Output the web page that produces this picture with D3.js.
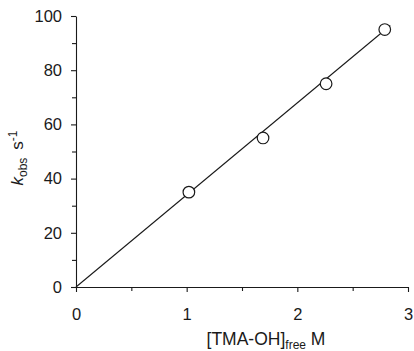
<!DOCTYPE html>
<html>
<head>
<meta charset="utf-8">
<script src="https://cdn.jsdelivr.net/npm/d3@7"></script>
<style>
	body { margin: 0; background: #fff; }
	text { font-family: "Liberation Sans", Arial, sans-serif; fill: #1a1a1a; }
</style>
</head>
<body>
<script>
// chart data
const concFree = [1.02, 1.69, 2.26, 2.79];   // [TMA-OH]free, M
const kObs = [35, 55, 75, 95];               // kobs, s^-1
const fitX = [0, 2.84];                      // linear fit end points
const fitY = [0, 96.5];
const xTicks = [0, 1, 2, 3];
const xMinor = [0.5, 1.5, 2.5];
const yTicks = [0, 20, 40, 60, 80, 100];
const yMinor = [10, 30, 50, 70, 90];

const width = 414;
const height = 351;
const margin = { top: 16, right: 6, bottom: 64, left: 76 };
const INK = '#1a1a1a';

const svg = d3.select('body')
	.append('svg')
	.attr('width', width)
	.attr('height', height);

const x = d3.scaleLinear().domain([0, 3]).range([margin.left, width - margin.right]);
const y = d3.scaleLinear().domain([0, 100]).range([height - margin.bottom, margin.top]);

// axes
svg.append('g')
	.attr('transform', `translate(0,${y(0)})`)
	.call(d3.axisBottom(x).tickValues(xTicks).tickFormat(d3.format('d')).tickSize(5).tickSizeOuter(0).tickPadding(16));
svg.append('g')
	.attr('transform', `translate(0,${y(0)})`)
	.call(d3.axisBottom(x).tickValues(xMinor).tickFormat('').tickSize(4).tickSizeOuter(0))
	.select('.domain').remove();

svg.append('g')
	.attr('transform', `translate(${x(0)},0)`)
	.call(d3.axisLeft(y).tickValues(yTicks).tickSize(5).tickSizeOuter(0).tickPadding(9));
svg.append('g')
	.attr('transform', `translate(${x(0)},0)`)
	.call(d3.axisLeft(y).tickValues(yMinor).tickFormat('').tickSize(4).tickSizeOuter(0))
	.select('.domain').remove();

svg.selectAll('.domain, .tick line').attr('stroke', INK).attr('stroke-width', 1.1);
svg.selectAll('.tick text')
	.attr('font-size', 16.5)
	.attr('font-family', '"Liberation Sans", Arial, sans-serif')
	.attr('fill', INK);

// fit line
svg.append('line')
	.attr('x1', x(fitX[0]))
	.attr('y1', y(fitY[0]))
	.attr('x2', x(fitX[1]))
	.attr('y2', y(fitY[1]))
	.attr('stroke', INK)
	.attr('stroke-width', 1.1);

// data points
svg.append('g')
	.selectAll('circle')
	.data(concFree)
	.enter()
	.append('circle')
	.attr('cx', d => x(d))
	.attr('cy', (d, i) => y(kObs[i]))
	.attr('r', 5.8)
	.attr('fill', '#fff')
	.attr('stroke', INK)
	.attr('stroke-width', 1.2);

// x title
const xt = svg.append('text')
	.attr('x', 266)
	.attr('y', 345)
	.attr('text-anchor', 'middle')
	.attr('font-size', 17.5);
xt.append('tspan').text('[TMA-OH]');
xt.append('tspan').attr('font-size', 12).attr('dy', 4).text('free');
xt.append('tspan').attr('dy', -4).text(' M');

// y title
const yt = svg.append('text')
	.attr('transform', `translate(23,158) rotate(-90)`)
	.attr('text-anchor', 'middle')
	.attr('font-size', 17);
yt.append('tspan').attr('font-style', 'italic').text('k');
yt.append('tspan').attr('font-size', 12).attr('dy', 4).text('obs');
yt.append('tspan').attr('dy', -4).attr('dx', 8).text('s');
yt.append('tspan').attr('font-size', 12).attr('dy', -6).text('-1');
</script>
</body>
</html>
